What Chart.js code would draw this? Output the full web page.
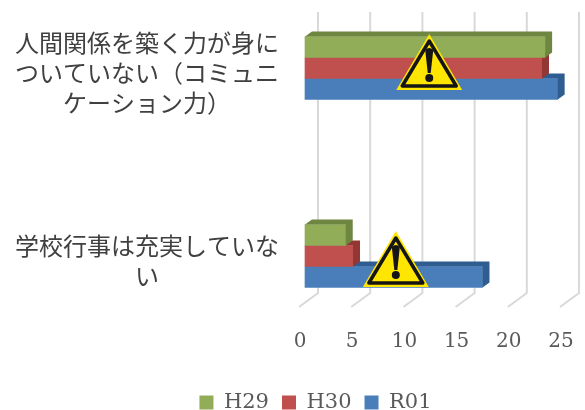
<!DOCTYPE html>
<html lang="ja">
<head>
    <meta charset="UTF-8">
    <title>H29 H30 R01</title>
    <script src="https://cdn.jsdelivr.net/npm/chart.js"></script>
    <style>
        body { margin: 0; background: #fff; }
        canvas { display: block; }
    </style>
</head>
<body>
    <canvas id="chart" width="585" height="410"></canvas>

    <script>
        const categories = [
            ["人間関係を築く力が身に", "ついていない（コミュニ", "ケーション力）"],
            ["学校行事は充実していな", "い"]
        ];
        const seriesNames = ["H29", "H30", "R01"];
        const h29 = [23.0, 3.9];
        const h30 = [22.7, 4.6];
        const r01 = [24.2, 17.0];
        const xTicks = [0, 5, 10, 15, 20, 25];
        const warningAt = [11.9, 8.7];   // where the warning signs sit on the x axis

        const faceColors = ["#92ad58", "#bf504d", "#4a7ebb"];
        const sideColors = ["#6f8640", "#933634", "#2f5d91"];

        const DEPTH_X = 7, DEPTH_Y = 5;

        // back wall lines and floor ticks of the 3D look
        const wallGrid = {
            id: "wallGrid",
            beforeDatasetsDraw(chart) {
                const c = chart.ctx, x = chart.scales.x;
                c.save();
                c.strokeStyle = "#d9d9d9";
                c.lineWidth = 2;
                xTicks.forEach(v => {
                    const px = x.getPixelForValue(v) + 13;
                    c.beginPath();
                    c.moveTo(px, 12);
                    c.lineTo(px, 293);
                    c.lineTo(px - 19, 307);
                    c.stroke();
                });
                c.restore();
            }
        };

        // top and right faces, right after each dataset so the next one covers them
        const barDepth = {
            id: "barDepth",
            afterDatasetDraw(chart, args) {
                const c = chart.ctx;
                c.save();
                c.fillStyle = sideColors[args.index];
                args.meta.data.forEach(bar => {
                    const top = bar.y - bar.height / 2, bottom = bar.y + bar.height / 2;
                    c.beginPath();
                    c.moveTo(bar.base, top);
                    c.lineTo(bar.base + DEPTH_X, top - DEPTH_Y);
                    c.lineTo(bar.x + DEPTH_X, top - DEPTH_Y);
                    c.lineTo(bar.x + DEPTH_X, bottom - DEPTH_Y);
                    c.lineTo(bar.x, bottom);
                    c.lineTo(bar.x, top);
                    c.closePath();
                    c.fill();
                });
                c.restore();
            }
        };

        function drawSign(c, x, base) {
            const w = 33, h = 56;
            c.fillStyle = "#ffe600";
            c.beginPath();
            c.moveTo(x, base - h);
            c.lineTo(x + w, base);
            c.lineTo(x - w, base);
            c.closePath();
            c.fill();

            c.strokeStyle = "#151515";
            c.lineWidth = 3.5;
            c.lineJoin = "round";
            c.beginPath();
            c.moveTo(x, base - h + 7);
            c.lineTo(x + w - 6, base - 4);
            c.lineTo(x - w + 6, base - 4);
            c.closePath();
            c.stroke();

            c.fillStyle = "#151515";
            c.beginPath();
            c.moveTo(x - 4, base - 40);
            c.quadraticCurveTo(x, base - 44, x + 4, base - 40);
            c.lineTo(x + 1.5, base - 17);
            c.lineTo(x - 1.5, base - 17);
            c.closePath();
            c.fill();
            c.beginPath();
            c.arc(x, base - 12, 4, 0, Math.PI * 2);
            c.fill();
        }

        const warningSigns = {
            id: "warningSigns",
            afterDatasetsDraw(chart) {
                const x = chart.scales.x, y = chart.scales.y;
                drawSign(chart.ctx, x.getPixelForValue(warningAt[0]), y.getPixelForValue(0) + 22);
                drawSign(chart.ctx, x.getPixelForValue(warningAt[1]), y.getPixelForValue(1) + 31);
            }
        };

        // legend sits right of centre and lower than the default box
        const moveLegend = {
            id: "moveLegend",
            afterLayout(chart) {
                chart.legend.left += 50;
                chart.legend.top += 13;
            }
        };

        const serif = "'DejaVu Serif', serif";
        const values = [h29, h30, r01];

        new Chart(document.getElementById("chart"), {
            type: "bar",
            data: {
                labels: categories,
                datasets: seriesNames.map((name, i) => ({
                    label: name,
                    data: values[i],
                    backgroundColor: faceColors[i],
                    barThickness: 21,
                    barPercentage: 1,
                    clip: false
                }))
            },
            plugins: [wallGrid, barDepth, warningSigns, moveLegend],
            options: {
                indexAxis: "y",
                responsive: false,
                animation: false,
                layout: { padding: { left: 15, right: 19, top: 68, bottom: 0 } },
                plugins: {
                    tooltip: { enabled: false },
                    legend: {
                        position: "bottom",
                        labels: {
                            boxWidth: 14,
                            boxHeight: 14,
                            padding: 13,
                            color: "#595959",
                            font: { family: serif, size: 21 }
                        }
                    }
                },
                scales: {
                    x: {
                        min: 0,
                        max: 25,
                        // tickLength only pushes the labels down, the marks themselves are hidden
                        grid: { display: false, tickLength: 74 },
                        border: { display: false },
                        afterFit(s) { s.height = 110; },
                        afterBuildTicks(s) { s.ticks = xTicks.map(v => ({ value: v })); },
                        ticks: {
                            padding: 0,
                            labelOffset: -5,
                            maxRotation: 0,
                            color: "#595959",
                            font: { family: serif, size: 20 }
                        }
                    },
                    y: {
                        offset: false,
                        grid: { display: false, tickLength: 26 },
                        border: { display: false },
                        afterFit(s) { s.width = 290; },
                        ticks: {
                            padding: 0,
                            crossAlign: "center",
                            labelOffset: 5,
                            color: "#404040",
                            font: { family: "'Noto Sans CJK JP', sans-serif", size: 24, lineHeight: 1.26 }
                        }
                    }
                }
            }
        });
    </script>
</body>
</html>
